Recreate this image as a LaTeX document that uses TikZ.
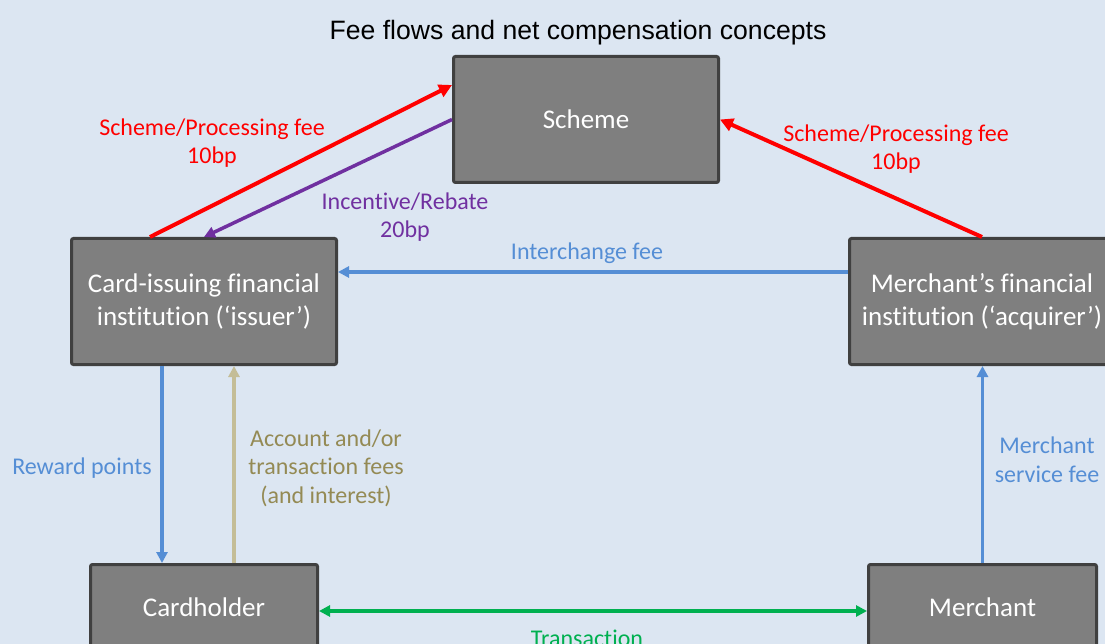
\documentclass[tikz,border=0pt]{standalone}
\usepackage{fontspec}
\setmainfont{Carlito}[Ligatures={NoCommon,NoRequired,NoContextual}]
\newfontfamily\titlefont{Liberation Sans}
\usetikzlibrary{arrows.meta,calc}
\definecolor{bgc}{HTML}{DCE6F2}
\definecolor{boxfill}{HTML}{7F7F7F}
\definecolor{boxline}{HTML}{404040}
\definecolor{redc}{HTML}{FF0000}
\definecolor{purp}{HTML}{7030A0}
\definecolor{bluec}{HTML}{558ED5}
\definecolor{tanline}{HTML}{C4BD97}
\definecolor{tantext}{HTML}{948A54}
\definecolor{greenc}{HTML}{00B050}
\begin{document}
\begin{tikzpicture}[x=1pt,y=-1pt,
  box/.style={draw=boxline, fill=boxfill, line width=3pt, rounded corners=2pt,
    text=white, font=\fontsize{27}{32.4}\selectfont, align=center, inner sep=0pt},
  lbl/.style={font=\fontsize{24}{28.5}\selectfont, align=center, inner sep=0pt},
  bigtip/.style={-{Triangle[length=13pt,width=13pt]}},
  smalltip/.style={-{Triangle[length=11pt,width=11pt]}},
]
\useasboundingbox (0,0) rectangle (1105,644);
\fill[bgc] (0,0) rectangle (1105,644);
\clip (0,0) rectangle (1105,644);

\node[font=\titlefont\fontsize{26.6}{30}\selectfont, inner sep=0pt] (title) at (578,33) {Fee flows and net compensation concepts};

\node[box, minimum width=265pt, minimum height=126pt] (scheme) at (586,119.5) {Scheme};
\node[box, minimum width=265pt, minimum height=126pt] (issuer) at (204,301.5) {Card-issuing financial\\institution (‘issuer’)};
\node[box, minimum width=265pt, minimum height=126pt] (acquirer) at (982,301.5) {Merchant’s financial\\institution (‘acquirer’)};
\node[box, minimum width=227pt, minimum height=85pt] (cardholder) at (204,607) {Cardholder};
\node[box, minimum width=228pt, minimum height=85pt] (merchant) at (982.5,607) {Merchant};

% connectors
\draw[redc, line width=4pt, bigtip] ([xshift=80pt]issuer.north west) -- ([yshift=-30pt]scheme.north west);
\draw[purp, line width=3.5pt, smalltip] (scheme.west) -- (issuer.north);
\draw[redc, line width=4pt, bigtip] (acquirer.north) -- (scheme.east);
\draw[bluec, line width=3.5pt, smalltip] ([yshift=29.5pt]acquirer.west) -- ([yshift=29.5pt]issuer.east);
\draw[bluec, line width=3.5pt, smalltip] ([xshift=-42pt]issuer.south) -- ([xshift=-42pt]cardholder.north);
\draw[tanline, line width=3.5pt, smalltip] ([xshift=30pt]cardholder.north) -- ([xshift=30pt]issuer.south);
\draw[bluec, line width=3.5pt, smalltip] (merchant.north) -- (merchant.north |- acquirer.south);
\draw[greenc, line width=4pt, {Triangle[length=11pt,width=11pt]}-{Triangle[length=11pt,width=11pt]}] ([yshift=-4pt]cardholder.east) -- ([yshift=-4pt]merchant.west);

% labels
\node[lbl, text=redc] (l1) at (212,143) {Scheme/Processing fee\\10bp};
\node[lbl, text=redc] (l2) at (896,149) {Scheme/Processing fee\\10bp};
\node[lbl, text=purp] (l3) at (405,217) {Incentive/Rebate\\20bp};
\node[lbl, text=bluec] (l4) at (587,253) {Interchange fee};
\node[lbl, text=bluec] (l5) at (82,468) {Reward points};
\node[lbl, text=tantext] (l6) at (326,468) {Account and/or\\transaction fees\\(and interest)};
\node[lbl, text=bluec] (l7) at (1047,460) {Merchant\\service fee};
\node[lbl, text=greenc] (l8) at (587,638) {Transaction};
\end{tikzpicture}
\end{document}
